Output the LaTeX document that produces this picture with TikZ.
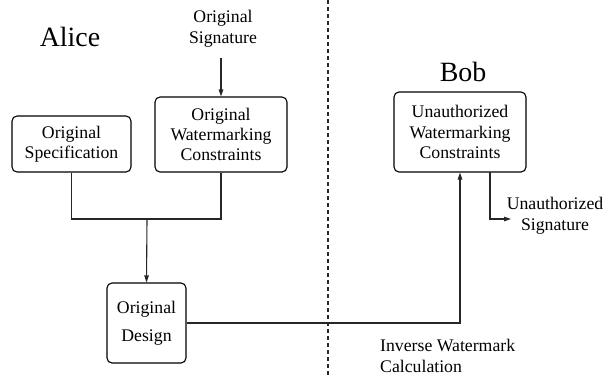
\documentclass[tikz,border=0pt]{standalone}
\usepackage{fontspec}
\setmainfont{Liberation Serif}
\usetikzlibrary{arrows.meta}
\begin{document}
\begin{tikzpicture}[x=1bp,y=-1bp,
  txt/.style={font=\fontsize{17.8}{21.5}\selectfont, align=center, inner sep=0pt},
  big/.style={font=\fontsize{28}{32}\selectfont, inner sep=0pt},
  box/.style={draw, line width=1.1bp, rounded corners=5bp, align=center, inner sep=0pt,
    font=\fontsize{17.8}{20.5}\selectfont},
  conn/.style={line width=1.1bp, draw=black!85},
  arr/.style={conn, -{Triangle[length=7bp,width=4.5bp]}}]
\useasboundingbox (0,0) rectangle (608,377);
\node[big] (alice) at (70,37) {Alice};
\node[big] (bob) at (463,72) {Bob};
\node[txt] (osig) at (223,29) {Original\\Signature};
\node[box, minimum width=119bp, minimum height=56bp] (spec) at (71.5,144) {Original\\Specification};
\node[box, minimum width=132bp, minimum height=75bp] (cons) at (221,134.5) {Original\\Watermarking\\Constraints};
\node[box, minimum width=79bp, minimum height=80bp] (design) at (146.5,323) {Original\\[8bp]Design};
\node[box, minimum width=132bp, minimum height=80bp] (unauth) at (460,132) {Unauthorized\\Watermarking\\Constraints};
\node[txt] (usig) at (555,216) {Unauthorized\\Signature};
\node[txt, anchor=west, align=left] (inv) at (380,356) {Inverse Watermark\\Calculation};
\coordinate (j) at (147,219);
\coordinate (us) at (490,172);
\coordinate (usend) at (511,219);
\coordinate (sigtop) at (221,58);
\coordinate (dtop) at (328,0);
\coordinate (dbot) at (328,377);
\draw[conn, dashed, dash pattern=on 4bp off 3bp] (dtop) -- (dbot);
\draw[arr] (sigtop) -- (cons.north);
\draw[conn] (spec.south) |- (j) -| (cons.south);
\draw[arr] (j) -- (design.north);
\draw[arr] (design.east) -| (unauth.south);
\draw[arr] (us) |- (usend);
\end{tikzpicture}
\end{document}
